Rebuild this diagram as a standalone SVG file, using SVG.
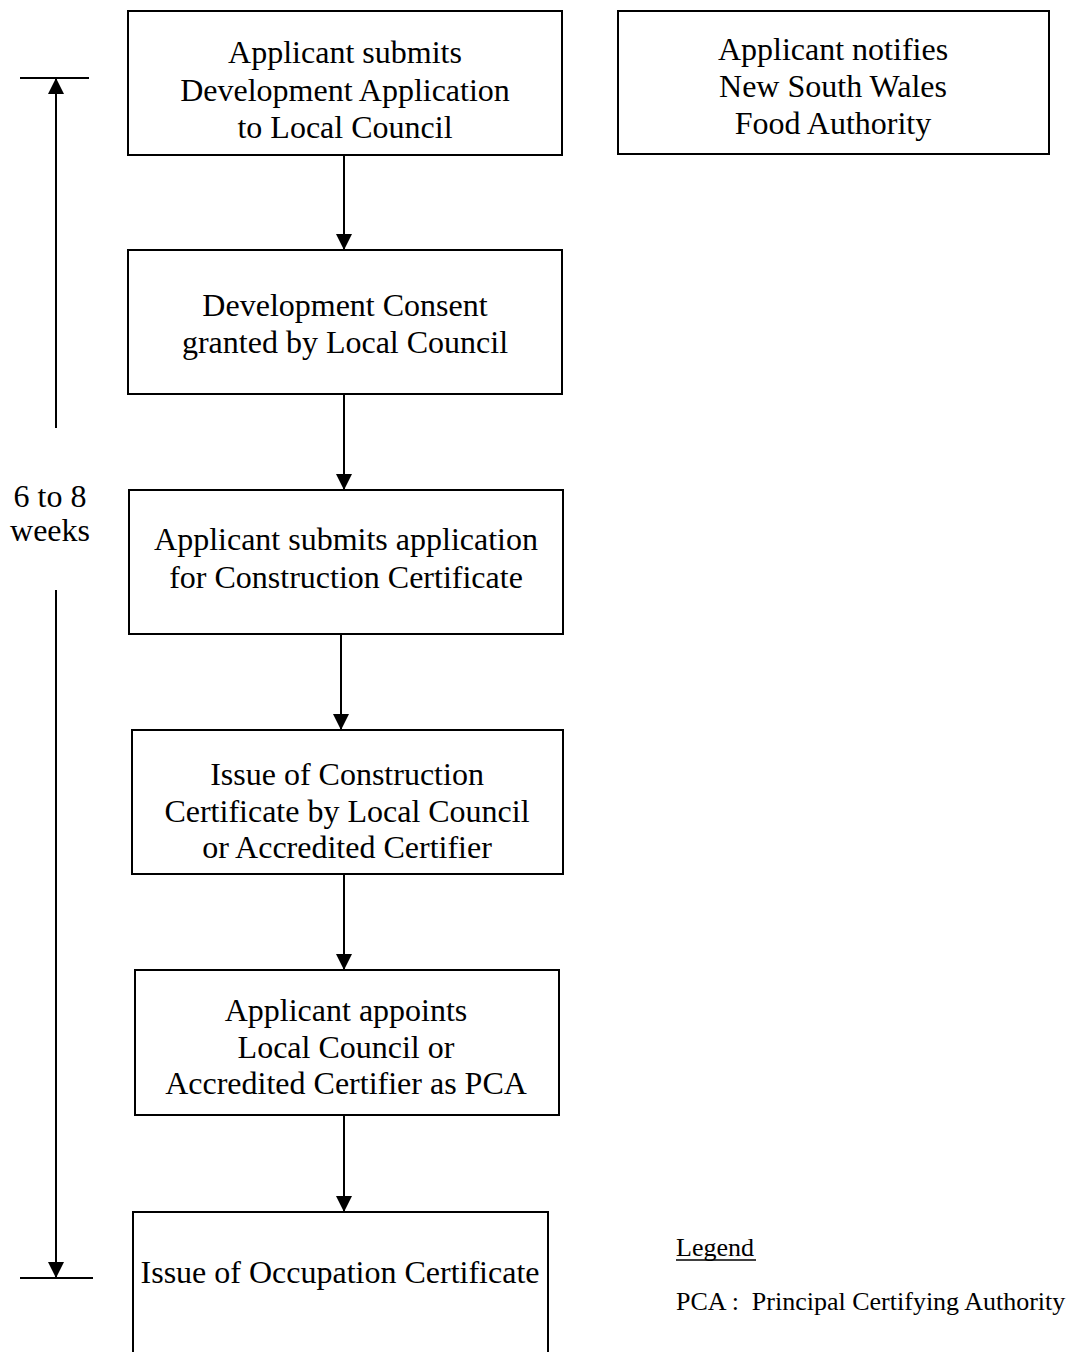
<svg xmlns="http://www.w3.org/2000/svg" width="1077" height="1352" viewBox="0 0 1077 1352">
<style>
.box{fill:#fff;stroke:#000;stroke-width:2}
.t{font-family:"Liberation Serif","Times New Roman",serif;font-size:32px;fill:#000;text-anchor:middle}
.s{font-family:"Liberation Serif","Times New Roman",serif;font-size:26px;fill:#000}
.c{stroke:#000;stroke-width:2;fill:none}
</style>
<defs>
<marker id="ah" markerWidth="16" markerHeight="16" refX="16" refY="8" orient="auto" markerUnits="userSpaceOnUse" viewBox="0 0 16 16">
<path d="M0,0 L16,8 L0,16 Z" fill="#000"/>
</marker>
</defs>
<rect width="1077" height="1352" fill="#fff"/>
<g id="n1"><rect class="box" x="128" y="11" width="434" height="144"/>
<text class="t" x="345" y="63">Applicant submits</text>
<text class="t" x="345" y="101">Development Application</text>
<text class="t" x="345" y="138">to Local Council</text></g>
<g id="nsw"><rect class="box" x="618" y="11" width="431" height="143"/>
<text class="t" x="833" y="60">Applicant notifies</text>
<text class="t" x="833" y="97">New South Wales</text>
<text class="t" x="833" y="134">Food Authority</text></g>
<g id="n2"><rect class="box" x="128" y="250" width="434" height="144"/>
<text class="t" x="345" y="316">Development Consent</text>
<text class="t" x="345" y="353">granted by Local Council</text></g>
<g id="n3"><rect class="box" x="129" y="490" width="434" height="144"/>
<text class="t" x="346" y="550">Applicant submits application</text>
<text class="t" x="346" y="588">for Construction Certificate</text></g>
<g id="n4"><rect class="box" x="132" y="730" width="431" height="144"/>
<text class="t" x="347" y="785">Issue of Construction</text>
<text class="t" x="347" y="822">Certificate by Local Council</text>
<text class="t" x="347" y="858">or Accredited Certifier</text></g>
<g id="n5"><rect class="box" x="135" y="970" width="424" height="145"/>
<text class="t" x="346" y="1021">Applicant appoints</text>
<text class="t" x="346" y="1058">Local Council or</text>
<text class="t" x="346" y="1094">Accredited Certifier as PCA</text></g>
<g id="n6"><rect class="box" x="133" y="1212" width="415" height="160"/>
<text class="t" x="340" y="1283">Issue of Occupation Certificate</text></g>
<g id="connectors">
<line class="c" x1="344" y1="155" x2="344" y2="250" marker-end="url(#ah)"/>
<line class="c" x1="344" y1="394" x2="344" y2="490" marker-end="url(#ah)"/>
<line class="c" x1="341" y1="634" x2="341" y2="730" marker-end="url(#ah)"/>
<line class="c" x1="344" y1="874" x2="344" y2="970" marker-end="url(#ah)"/>
<line class="c" x1="344" y1="1115" x2="344" y2="1212" marker-end="url(#ah)"/>
</g>
<g id="duration">
<line class="c" x1="20" y1="78" x2="89" y2="78"/>
<line class="c" x1="56" y1="428" x2="56" y2="78" marker-end="url(#ah)"/>
<line class="c" x1="56" y1="590" x2="56" y2="1278" marker-end="url(#ah)"/>
<line class="c" x1="20" y1="1278" x2="93" y2="1278"/>
<text class="t" x="50" y="507">6 to 8</text>
<text class="t" x="50" y="541">weeks</text>
</g>
<g id="legend">
<text class="s" x="676" y="1256">Legend</text>
<line x1="676" y1="1260" x2="756" y2="1260" stroke="#000" stroke-width="1.5"/>
<text class="s" x="676" y="1310" xml:space="preserve">PCA :  Principal Certifying Authority</text>
</g>
</svg>
